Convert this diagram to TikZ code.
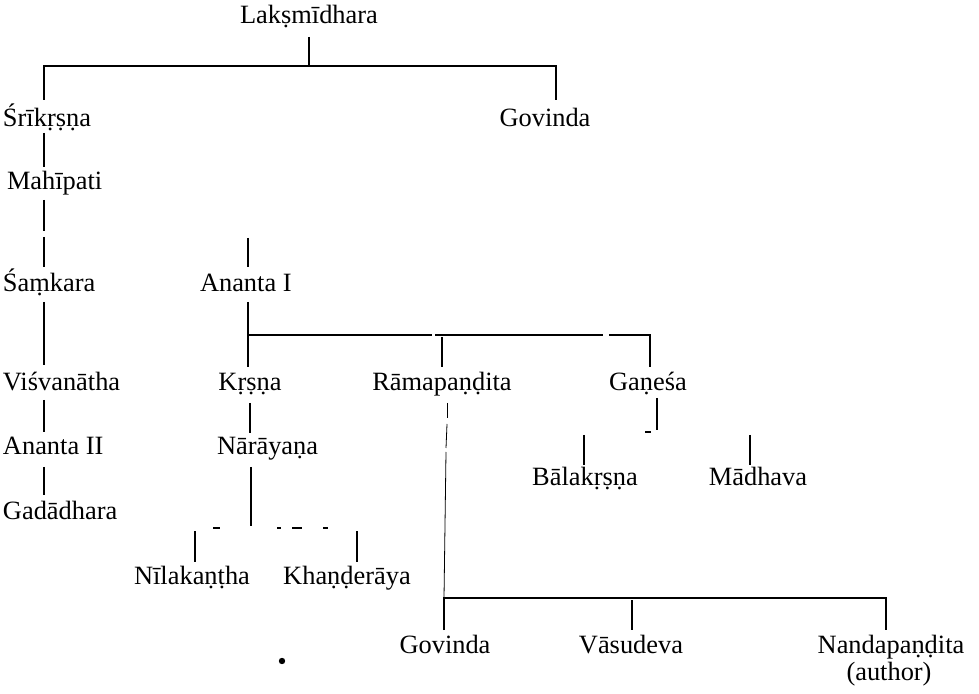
\documentclass[tikz,border=0pt]{standalone}
\usepackage{fontspec}
\setmainfont{Liberation Serif}
\begin{document}
\begin{tikzpicture}[x=0.5pt,y=-0.5pt,
  lbl/.style={inner sep=0pt,outer sep=0pt,font=\fontsize{13.2}{15}\selectfont},
  ln/.style={line width=0.6pt},
  hln/.style={line width=0.8pt},
  thinln/.style={line width=0.4pt}]
\useasboundingbox (0,0) rectangle (979,694);
% ---- names ----
\node[lbl,anchor=base] (lak) at (309,24) {Lakṣmīdhara};
\node[lbl,anchor=base west] (sri) at (3,127) {Śrīkṛṣṇa};
\node[lbl,anchor=base] (gova) at (545,127) {Govinda};
\node[lbl,anchor=base west] (mah) at (7,190) {Mahīpati};
\node[lbl,anchor=base west] (sam) at (3,292) {Śaṃkara};
\node[lbl,anchor=base west] (anaa) at (200,292) {Ananta I};
\node[lbl,anchor=base west] (vis) at (3,391) {Viśvanātha};
\node[lbl,anchor=base] (krs) at (250,391) {Kṛṣṇa};
\node[lbl,anchor=base] (ram) at (442,391) {Rāmapaṇḍita};
\node[lbl,anchor=base] (gan) at (648,391) {Gaṇeśa};
\node[lbl,anchor=base west] (anab) at (3,455) {Ananta II};
\node[lbl,anchor=base west] (nar) at (217,455) {Nārāyaṇa};
\node[lbl,anchor=base] (bal) at (585,486) {Bālakṛṣṇa};
\node[lbl,anchor=base] (mad) at (758,486) {Mādhava};
\node[lbl,anchor=base west] (gad) at (3,519) {Gadādhara};
\node[lbl,anchor=base] (nil) at (192,584) {Nīlakaṇṭha};
\node[lbl,anchor=base] (kha) at (347,584) {Khaṇḍerāya};
\node[lbl,anchor=base] (govb) at (445,653) {Govinda};
\node[lbl,anchor=base] (vas) at (631,653) {Vāsudeva};
\node[lbl,anchor=base] (nan) at (891,653) {Nandapaṇḍita};
\node[lbl,anchor=base] (aut) at (889,680) {(author)};
% ---- junction coordinates ----
\coordinate (lakB) at (309,37);
\coordinate (lakH) at (309,65);
\coordinate (hAL) at (44,66);
\coordinate (hAR) at (556,66);
\coordinate (sriT) at (44,100);
\coordinate (govaT) at (556,100);
\coordinate (sriB) at (44,133);
\coordinate (mahT) at (44,167);
\coordinate (mahB) at (44,200);
\coordinate (mahM) at (44,231);
\coordinate (samM) at (44,237);
\coordinate (samT) at (44,267);
\coordinate (anaaTa) at (248,238);
\coordinate (anaaTb) at (248,267);
\coordinate (samB) at (44,302);
\coordinate (visT) at (44,365);
\coordinate (anaaB) at (248,302);
\coordinate (hBL) at (248,335);
\coordinate (hBg1) at (432,335);
\coordinate (hBg2) at (435,335);
\coordinate (hBg3) at (603,335);
\coordinate (hBg4) at (609,335);
\coordinate (hBR) at (650,335);
\coordinate (krsT) at (248,367);
\coordinate (ramJ) at (442,337);
\coordinate (ramT) at (442,367);
\coordinate (ganT) at (650,367);
\coordinate (visB) at (44,400);
\coordinate (anabT) at (44,432);
\coordinate (anabB) at (44,467);
\coordinate (gadT) at (44,495);
\coordinate (krsB) at (250,403);
\coordinate (narT) at (250,433);
\coordinate (narB) at (251,467);
\coordinate (narJ) at (251,518);
\coordinate (narK) at (251,526);
\coordinate (nilJ) at (195,531);
\coordinate (nilT) at (195,562);
\coordinate (khaJ) at (357,531);
\coordinate (khaT) at (357,562);
\coordinate (ramBa) at (447,403);
\coordinate (ramBb) at (447,418);
\coordinate (ramBc) at (447,424);
\coordinate (ramBd) at (446,448);
\coordinate (ramBe) at (446,452);
\coordinate (hCL) at (444,598);
\coordinate (hCR) at (886,598);
\coordinate (govbT) at (444,630);
\coordinate (vasJ) at (632,600);
\coordinate (vasT) at (632,630);
\coordinate (nanT) at (886,630);
\coordinate (ganB) at (657,398);
\coordinate (ganJ) at (657,430);
\coordinate (tickL) at (645,432);
\coordinate (tickR) at (651,432);
\coordinate (balJ) at (584,435);
\coordinate (balT) at (584,465);
\coordinate (madJ) at (750,435);
\coordinate (madT) at (750,465);
% ---- connectors ----
\draw[ln] (lakB) -- (lakH);
\draw[hln] (sriT) -- (hAL) -- (hAR) -- (govaT);
\draw[ln] (sriB) -- (mahT);
\draw[ln] (mahB) -- (mahM);
\draw[ln] (samM) -- (samT);
\draw[ln] (anaaTa) -- (anaaTb);
\draw[ln] (samB) -- (visT);
\draw[ln] (anaaB) -- (hBL);
\draw[hln] (krsT) -- (hBL) -- (hBg1);
\draw[hln] (hBg2) -- (hBg3);
\draw[hln] (hBg4) -- (hBR) -- (ganT);
\draw[ln] (ramJ) -- (ramT);
\draw[ln] (visB) -- (anabT);
\draw[ln] (anabB) -- (gadT);
\draw[ln] (krsB) -- (narT);
\draw[ln] (narB) -- (narJ);
\draw[line width=1.3pt] (narJ) -- (narK);
% broken bar under Narayana
\draw[ln] (213,528) -- (220,528);
\draw[ln] (277,528) -- (281,528);
\draw[ln] (292,528) -- (302,528);
\draw[ln] (323,528) -- (328,528);
\draw[ln] (nilJ) -- (nilT);
\draw[ln] (khaJ) -- (khaT);
% Ramapandita line of descent
\draw[thinln] (ramBa) -- (ramBb);
\draw[thinln] (ramBc) -- (ramBd);
\draw[thinln] (ramBe) -- (hCL);
\draw[hln] (govbT) -- (hCL) -- (hCR) -- (nanT);
\draw[ln] (vasJ) -- (vasT);
% Ganesa
\draw[ln] (ganB) -- (ganJ);
\draw[ln] (tickL) -- (tickR);
\draw[ln] (balJ) -- (balT);
\draw[ln] (madJ) -- (madT);
% stray dot
\fill (282,661) circle[radius=1.6pt];
\end{tikzpicture}
\end{document}
